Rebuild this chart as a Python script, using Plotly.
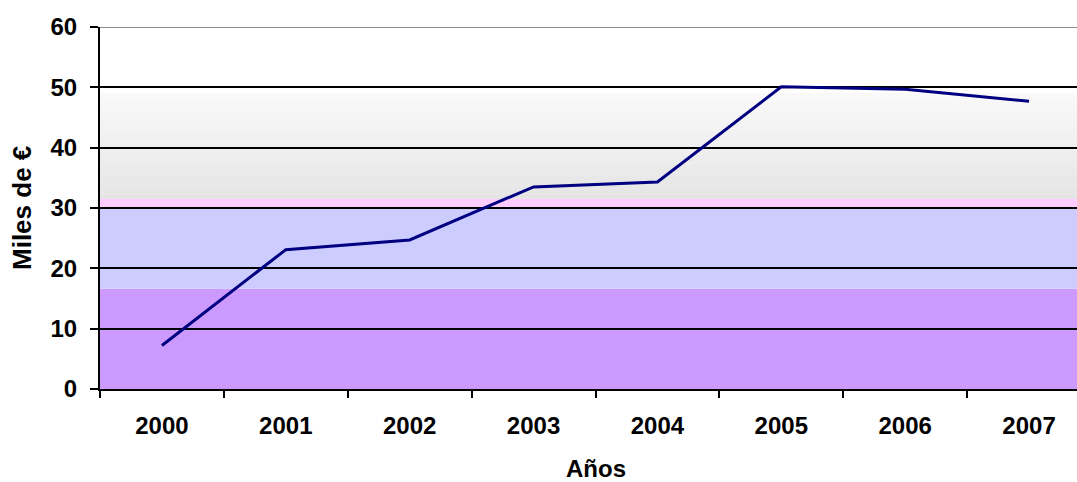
import plotly.graph_objects as go

# ---- data ----
years = ["2000", "2001", "2002", "2003", "2004", "2005", "2006", "2007"]
miles_eur = [7.2, 23.1, 24.7, 33.5, 34.3, 50.1, 49.7, 47.7]
y_ticks = [0, 10, 20, 30, 40, 50, 60]

# background bands (value ranges and colours)
band_lo = [0, 16.6, 30.0]
band_hi = [16.6, 30.0, 31.5]
band_col = ["#CC99FF", "#CCCCFF", "#FFCCFF"]
grad_lo, grad_hi = 31.5, 49.0
grad_from, grad_to = (229, 229, 229), (249, 249, 249)

FONT = "Liberation Sans"

fig = go.Figure()
fig.add_trace(go.Scatter(
    x=years, y=miles_eur, mode="lines",
    line=dict(color="#000080", width=3),
    showlegend=False, hoverinfo="skip",
))

shapes = []
for lo, hi, c in zip(band_lo, band_hi, band_col):
    shapes.append(dict(type="rect", xref="paper", yref="y", x0=0, x1=1, y0=lo, y1=hi,
                       fillcolor=c, line=dict(width=0), layer="below"))
n = 24
step = (grad_hi - grad_lo) / n
for i in range(n):
    t = i / (n - 1)
    col = tuple(round(a + (b - a) * t) for a, b in zip(grad_from, grad_to))
    shapes.append(dict(type="rect", xref="paper", yref="y", x0=0, x1=1,
                       y0=grad_lo + i * step, y1=grad_lo + (i + 1) * step + 0.05,
                       fillcolor="rgb(%d,%d,%d)" % col, line=dict(width=0), layer="below"))
# top gridline is grey in the reference
shapes.append(dict(type="line", xref="paper", yref="y", x0=0, x1=1, y0=60, y1=60,
                   line=dict(color="#8c8c8c", width=2), layer="above"))

fig.update_layout(
    width=1077, height=482,
    margin=dict(l=100, r=0, t=27, b=93),
    paper_bgcolor="white", plot_bgcolor="white",
    shapes=shapes,
    xaxis=dict(
        type="category", range=[-0.5, 7.387],
        tickson="boundaries", ticks="outside", ticklen=7, tickwidth=2, tickcolor="black",
        showline=True, linecolor="black", linewidth=2, showgrid=False,
        tickfont=dict(family=FONT, size=24, color="black", weight="bold"),
        ticklabelstandoff=14,
    ),
    yaxis=dict(
        range=[0, 60], tickvals=y_ticks, ticks="outside", ticklen=8, tickwidth=2,
        tickcolor="black", showline=True, linecolor="black", linewidth=2,
        showgrid=True, gridcolor="black", gridwidth=1.5, zeroline=False,
        tickfont=dict(family=FONT, size=24, color="black", weight="bold"),
        ticklabelstandoff=8,
    ),
    annotations=[
        dict(text="Miles de €", xref="paper", yref="paper", x=(22 - 100) / 977, y=0.5,
             xanchor="center", yanchor="middle", textangle=-90, showarrow=False,
             font=dict(family=FONT, size=26, color="black", weight="bold")),
        dict(text="Años", xref="paper", yref="paper", x=(596 - 100) / 977, y=-(468 - 389) / 362,
             xanchor="center", yanchor="middle", showarrow=False,
             font=dict(family=FONT, size=24, color="black", weight="bold")),
    ],
)

fig.write_html(
    "out.html",
    config={"displayModeBar": False},
    post_script="document.body.style.margin='0';document.body.style.overflow='hidden';",
)
